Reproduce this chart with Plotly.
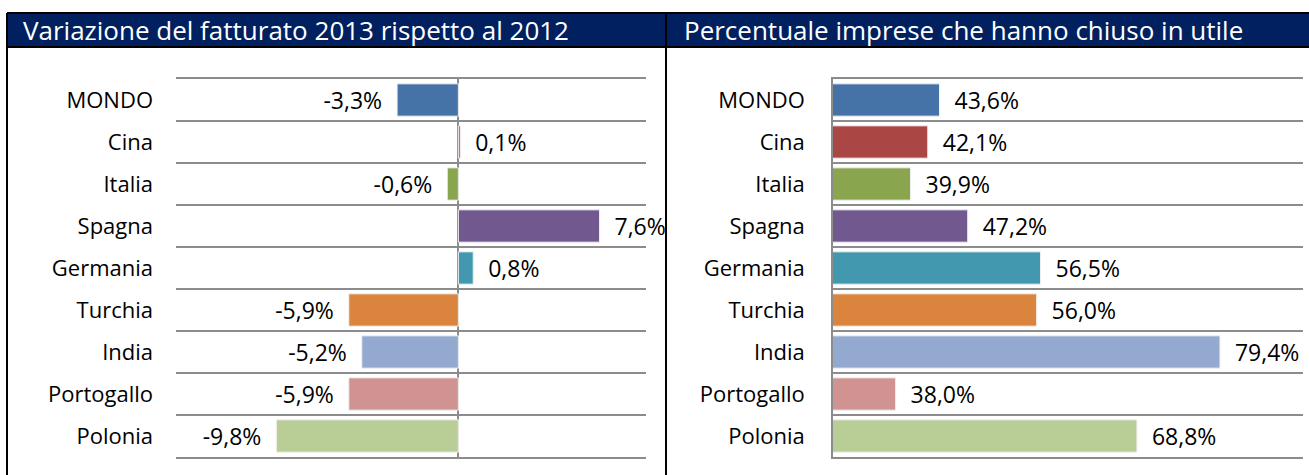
import plotly.graph_objects as go

# data
paesi = ['MONDO', 'Cina', 'Italia', 'Spagna', 'Germania', 'Turchia', 'India', 'Portogallo', 'Polonia']
var_fatturato = [-3.3, 0.1, -0.6, 7.6, 0.8, -5.9, -5.2, -5.9, -9.8]
perc_utile = [43.6, 42.1, 39.9, 47.2, 56.5, 56.0, 79.4, 38.0, 68.8]
colori = ['#4572A7', '#AA4643', '#89A54E', '#71588F', '#4198AF',
          '#DB843D', '#93A9CF', '#D19392', '#B9CD96']
titoli = ['Variazione del fatturato 2013 rispetto al 2012',
          'Percentuale imprese che hanno chiuso in utile']

FONT = 'Open Sans'
NB = '\u00a0'
GRIGIO = '#8c8c8c'
W, H = 1309, 475

def etichetta(v):
    '''format con virgola decimale, spazio verso la barra'''
    s = '{:.1f}%'.format(v).replace('.', ',')
    return s + NB * 2 if v < 0 else NB * 2 + s

pos = list(range(len(paesi)))

fig = go.Figure()
for vals, xa, ya in [(var_fatturato, 'x', 'y'), (perc_utile, 'x2', 'y2')]:
    fig.add_trace(go.Bar(
        x=vals, y=pos, orientation='h',
        marker=dict(color=colori, line=dict(color='#f2f2f2', width=1)),
        text=[etichetta(v) for v in vals], textposition='outside',
        textfont=dict(family=FONT, size=23, color='black'),
        cliponaxis=False, constraintext='none',
        xaxis=xa, yaxis=ya, showlegend=False, hoverinfo='skip'))

# righe della griglia tra le categorie; quelle ai bordi sono le linee dell'asse x
griglia = [i - 0.5 for i in range(1, len(paesi))]
ydom = [1 - 457/H, 1 - 79/H]
asse_y = dict(tickvals=pos, ticktext=paesi, range=[8.5, -0.5], domain=ydom,
              showgrid=False, zeroline=False, ticks='', ticklabelstandoff=22,
              tickfont=dict(family=FONT, size=22, color='black'),
              minor=dict(tickvals=griglia, showgrid=True, gridcolor=GRIGIO, gridwidth=1.5))
asse_x = dict(showticklabels=False, showgrid=False, showline=True, mirror=True,
              linecolor=GRIGIO, linewidth=1.5, ticks='')

fig.update_layout(
    width=W, height=H,
    margin=dict(l=0, r=0, t=0, b=0),
    paper_bgcolor='white', plot_bgcolor='white',
    bargap=0.23,
    xaxis=dict(asse_x, domain=[176/W, 646/W], range=[-15.2, 10.1],
               zeroline=True, zerolinecolor=GRIGIO, zerolinewidth=1.5, anchor='y'),
    yaxis=dict(asse_y, anchor='x'),
    xaxis2=dict(asse_x, domain=[833/W, 1303/W], range=[30, 90], zeroline=False, anchor='y2'),
    yaxis2=dict(asse_y, anchor='x2', showline=True, linecolor=GRIGIO, linewidth=1.5),
)

# cornice e intestazione
fig.add_shape(type='rect', xref='paper', yref='paper', x0=7/W, x1=1, y0=1-47/H, y1=1-13/H,
              fillcolor='#002060', line=dict(width=0), layer='above')
for x in [7/W, 666/W]:
    fig.add_shape(type='line', xref='paper', yref='paper', x0=x, x1=x, y0=0, y1=1-13/H,
                  line=dict(color='black', width=2), layer='above')
for y in [1-13/H, 1-47/H]:
    fig.add_shape(type='line', xref='paper', yref='paper', x0=7/W, x1=1, y0=y, y1=y,
                  line=dict(color='black', width=2), layer='above')
for x, t in zip([21/W, 682/W], titoli):
    fig.add_annotation(text=t, x=x, y=1-30/H, xref='paper', yref='paper',
                       xanchor='left', yanchor='middle', showarrow=False,
                       font=dict(family=FONT, size=26, color='white'))

fig.write_html("out.html", config={'displayModeBar': False},
               post_script="document.body.style.margin='0px';")
